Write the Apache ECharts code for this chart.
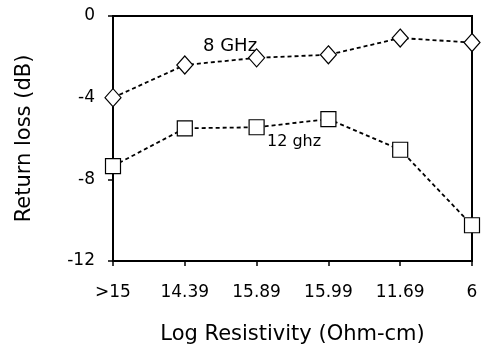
<!DOCTYPE html>
<html>
<head>
<meta charset="utf-8">
<script src="https://cdn.jsdelivr.net/npm/echarts@6/dist/echarts.min.js"></script>
<style>
  html, body { margin: 0; padding: 0; background: #fff; }
  #chart { width: 481px; height: 350px; }
</style>
</head>
<body>
<div id="chart"></div>
<script>
// ---------------------- Data ----------------------
let resistivity_labels = [">15", "14.39", "15.89", "15.99", "11.69", "6"];
let loss_8ghz  = [-4.0, -2.4, -2.05, -1.9, -1.08, -1.3];
let loss_12ghz = [-7.35, -5.5, -5.45, -5.05, -6.55, -10.25];

let chart_dom = document.getElementById("chart");
let chart = echarts.init(chart_dom);

// DejaVu is wider than Arial, closer to the stretched scan text
let font_name = "DejaVu Sans";
let line_style = {color: "#000", width: 1.8, type: [4, 3]};

// ---------------------- Series ----------------------
let series_8 = {
    type: "line",
    name: "8 GHz",
    data: loss_8ghz,
    symbol: "diamond",
    symbolSize: [16, 18],
    lineStyle: line_style,
    itemStyle: {color: "#fff", borderColor: "#000", borderWidth: 1.2},
    z: 3
};
let series_12 = {
    type: "line",
    name: "12 ghz",
    data: loss_12ghz,
    symbol: "rect",
    symbolSize: 15,
    lineStyle: line_style,
    itemStyle: {color: "#fff", borderColor: "#000", borderWidth: 1.2},
    z: 3
};

let option = {
    backgroundColor: "#fff",
    animation: false,
    grid: {left: 113, right: 9, top: 16, bottom: 89, show: true, borderColor: "#000", borderWidth: 2},
    xAxis: {
        type: "category",
        data: resistivity_labels,
        boundaryGap: false,
        name: "Log Resistivity (Ohm-cm)",
        nameLocation: "middle",
        nameGap: 63,
        nameTextStyle: {fontFamily: font_name, fontSize: 21, color: "#000"},
        axisLine: {onZero: false, lineStyle: {color: "#000", width: 2}},
        axisTick: {show: true, length: 5, lineStyle: {color: "#000", width: 1.5}},
        axisLabel: {fontFamily: font_name, fontSize: 17, color: "#000", margin: 23, interval: 0}
    },
    yAxis: {
        type: "value",
        min: -12,
        max: 0,
        interval: 4,
        name: "Return loss (dB)",
        nameLocation: "middle",
        nameGap: 78,
        nameTextStyle: {fontFamily: font_name, fontSize: 21, color: "#000"},
        axisLine: {show: true, onZero: false, lineStyle: {color: "#000", width: 2}},
        axisTick: {show: true, length: 5, lineStyle: {color: "#000", width: 1.5}},
        axisLabel: {fontFamily: font_name, fontSize: 17, color: "#000", margin: 18},
        splitLine: {show: false}
    },
    graphic: [
        {type: "text", left: 203, top: 37, style: {text: "8 GHz", font: "18px DejaVu Sans", fill: "#000"}},
        {type: "text", left: 267, top: 134, style: {text: "12 ghz", font: "16px DejaVu Sans", fill: "#000"}}
    ],
    series: [series_8, series_12]
};
chart.setOption(option);
</script>
</body>
</html>
